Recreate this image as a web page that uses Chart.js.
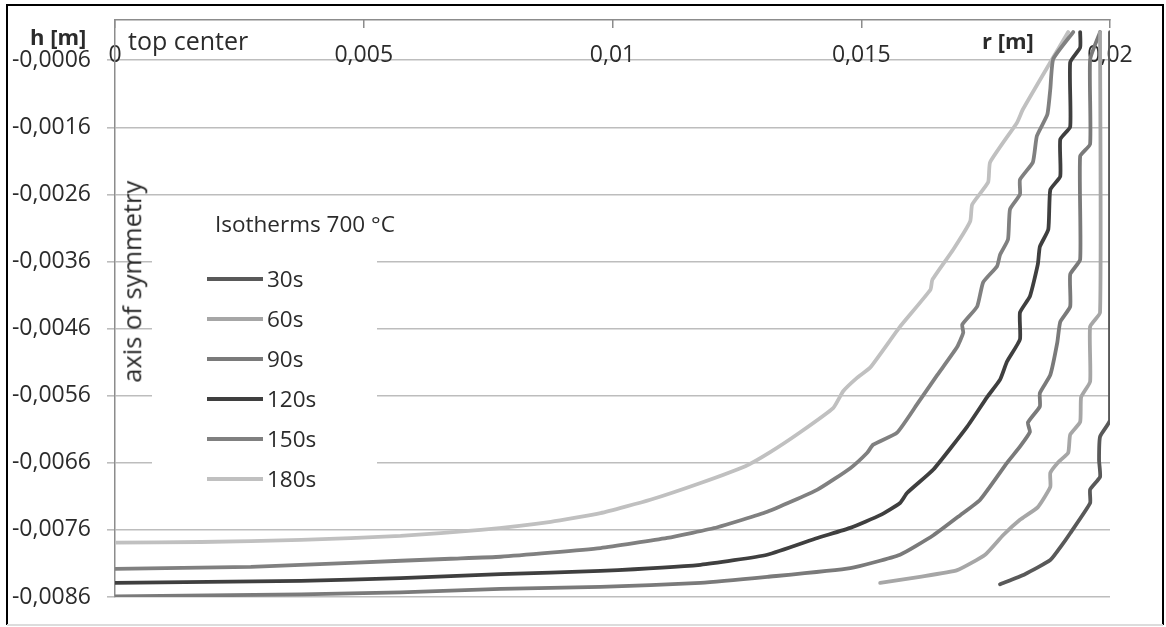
<!DOCTYPE html>
<html>
<head>
<meta charset="utf-8">
<script src="https://cdn.jsdelivr.net/npm/chart.js@4.4.1/dist/chart.umd.min.js"></script>
<style>
body { margin: 0; background: #fff; font-family: "Open Sans", sans-serif; color: #2b2b2b; }
#wrap { position: relative; width: 1166px; height: 627px; }
#chart { position: absolute; left: 0; top: 0; }
.txt { position: absolute; white-space: nowrap; line-height: 1; }
#legend { position: absolute; left: 152px; top: 205px; width: 225px; height: 295px; background: #fff; }
#legend .item { position: absolute; left: 55px; height: 22px; display: flex; align-items: center; font-size: 22.5px; line-height: 1; }
#legend .swatch { display: inline-block; width: 56px; height: 4.5px; margin-right: 4px; }
</style>
</head>
<body>
<div id="wrap">
  <canvas id="chart" width="1166" height="627"></canvas>
  <div class="txt" style="left:30px; top:25px; font-size:22px; font-weight:bold;">h [m]</div>
  <div class="txt" style="left:982px; top:29px; font-size:22px; font-weight:bold;">r [m]</div>
  <div class="txt" style="left:128px; top:28px; font-size:25px;">top center</div>
  <div class="txt" style="left:2px; top:269px; width:260px; text-align:center; font-size:25.5px; transform:rotate(-90deg);">axis of symmetry</div>
  <div id="legend">
    <div class="txt" style="left:63px; top:8px; font-size:22.5px;">Isotherms 700 °C</div>
  </div>
</div>
<script>
// isotherm positions: r = radius [m], h = depth [m]
const seriesNames = ['30s', '60s', '90s', '120s', '150s', '180s'];

const r30 = [0.01779, 0.01829, 0.01880, 0.01904, 0.01920, 0.01960, 0.01960, 0.01980, 0.01978, 0.01980, 0.02000, 0.02000];
const h30 = [-0.00841, -0.00826, -0.00805, -0.00782, -0.00765, -0.00720, -0.00700, -0.00681, -0.00656, -0.00621, -0.00596, -0.00018];

const r60 = [0.01538, 0.01618, 0.01693, 0.01749, 0.01785, 0.01819, 0.01855, 0.01880, 0.01880, 0.01896, 0.01916, 0.01920, 0.01940, 0.01942, 0.01960, 0.01960, 0.01980, 0.01980];
const h60 = [-0.00839, -0.00830, -0.00820, -0.00797, -0.00768, -0.00745, -0.00726, -0.00696, -0.00675, -0.00659, -0.00645, -0.00618, -0.00599, -0.00562, -0.00539, -0.00457, -0.00436, -0.00018];

const r90 = [0, 0.00374, 0.00574, 0.00775, 0.00976, 0.01177, 0.01311, 0.01478, 0.01578, 0.01645, 0.01699, 0.01739, 0.01793, 0.01819, 0.01839, 0.01835, 0.01859, 0.01859, 0.01880, 0.01894, 0.01900, 0.01920, 0.01920, 0.01940, 0.01940, 0.01960, 0.01960, 0.01980];
const h90 = [-0.00859, -0.00856, -0.00853, -0.00848, -0.00845, -0.00839, -0.00830, -0.00817, -0.00797, -0.00768, -0.00738, -0.00715, -0.00660, -0.00636, -0.00614, -0.00600, -0.00576, -0.00556, -0.00529, -0.00481, -0.00450, -0.00427, -0.00379, -0.00357, -0.00203, -0.00185, -0.00059, -0.00018];

const r120 = [0, 0.00374, 0.00574, 0.00775, 0.00976, 0.01177, 0.01311, 0.01412, 0.01478, 0.01538, 0.01578, 0.01592, 0.01645, 0.01713, 0.01753, 0.01779, 0.01793, 0.01819, 0.01819, 0.01839, 0.01855, 0.01859, 0.01876, 0.01880, 0.01900, 0.01900, 0.01920, 0.01920, 0.01940, 0.01940];
const h120 = [-0.00839, -0.00836, -0.00832, -0.00826, -0.00821, -0.00812, -0.00797, -0.00772, -0.00757, -0.00738, -0.00720, -0.00705, -0.00670, -0.00606, -0.00562, -0.00536, -0.00509, -0.00476, -0.00436, -0.00412, -0.00364, -0.00338, -0.00312, -0.00253, -0.00233, -0.00178, -0.00159, -0.00063, -0.00041, -0.00018];

const r150 = [0, 0.00273, 0.00474, 0.00675, 0.00775, 0.00976, 0.01110, 0.01211, 0.01311, 0.01412, 0.01478, 0.01512, 0.01524, 0.01572, 0.01612, 0.01653, 0.01693, 0.01705, 0.01703, 0.01733, 0.01745, 0.01773, 0.01779, 0.01795, 0.01799, 0.01819, 0.01819, 0.01845, 0.01853, 0.01874, 0.01880, 0.01886, 0.01926];
const h150 = [-0.00818, -0.00815, -0.00809, -0.00803, -0.00800, -0.00787, -0.00772, -0.00756, -0.00733, -0.00700, -0.00668, -0.00645, -0.00633, -0.00615, -0.00573, -0.00529, -0.00487, -0.00466, -0.00454, -0.00427, -0.00391, -0.00367, -0.00350, -0.00327, -0.00282, -0.00260, -0.00238, -0.00212, -0.00173, -0.00141, -0.00103, -0.00058, -0.00018];

const r180 = [0, 0.00173, 0.00374, 0.00574, 0.00735, 0.00876, 0.00976, 0.01076, 0.01177, 0.01267, 0.01317, 0.01378, 0.01444, 0.01464, 0.01492, 0.01518, 0.01578, 0.01639, 0.01643, 0.01685, 0.01719, 0.01723, 0.01755, 0.01759, 0.01813, 0.01825, 0.01880, 0.01916];
const h180 = [-0.00779, -0.00778, -0.00775, -0.00769, -0.00760, -0.00748, -0.00735, -0.00715, -0.00690, -0.00665, -0.00644, -0.00614, -0.00578, -0.00553, -0.00533, -0.00518, -0.00457, -0.00402, -0.00387, -0.00342, -0.00300, -0.00275, -0.00242, -0.00212, -0.00153, -0.00133, -0.00063, -0.00018];

const rValues = [r30, r60, r90, r120, r150, r180];
const hValues = [h30, h60, h90, h120, h150, h180];

// tick labels on the h axis
const hTicks = [-0.0086, -0.0076, -0.0066, -0.0056, -0.0046, -0.0036, -0.0026, -0.0016, -0.0006];

const lineColors = ['#595959', '#a6a6a6', '#7a7a7a', '#3f3f3f', '#808080', '#c0c0c0'];
const textColor = '#2b2b2b';
const axisColor = '#8c8c8c';

const frame = {
    id: 'frame',
    beforeDraw(chart) {
        const c = chart.ctx;
        c.save();
        c.fillStyle = '#fff';
        c.fillRect(0, 0, chart.width, chart.height);
        c.strokeStyle = '#000';
        c.lineWidth = 2;
        c.beginPath();
        c.moveTo(7, 625);
        c.lineTo(7, 5);
        c.lineTo(1163, 5);
        c.lineTo(1163, 625);
        c.stroke();
        c.strokeStyle = '#dcdcdc';
        c.beginPath();
        c.moveTo(7, 625);
        c.lineTo(1163, 625);
        c.stroke();
        c.restore();
    }
};

const datasets = seriesNames.map((name, i) => ({
    label: name,
    data: rValues[i].map((r, j) => ({ x: r, y: hValues[i][j] })),
    showLine: true,
    borderColor: lineColors[i],
    backgroundColor: lineColors[i],
    borderWidth: 3.8,
    borderJoinStyle: 'round',
    borderCapStyle: 'round',
    pointRadius: 0,
    tension: 0.15,
    fill: false
}));

const ctx = document.getElementById('chart').getContext('2d');

const isoChart = new Chart(ctx, {
    type: 'scatter',
    data: { datasets: datasets },
    options: {
        responsive: false,
        animation: false,
        layout: { padding: { left: 7, top: 20, right: 56, bottom: 30 } },
        plugins: {
            legend: { display: false },
            tooltip: { enabled: false }
        },
        scales: {
            x: {
                type: 'linear',
                position: 'top',
                min: 0,
                max: 0.02,
                afterFit: (s) => { s.height = 0; },
                ticks: {
                    stepSize: 0.005,
                    mirror: true,
                    padding: 22,
                    color: textColor,
                    font: { family: 'Open Sans', size: 23 },
                    callback: (v) => String(+v.toFixed(3)).replace('.', ',')
                },
                grid: { drawOnChartArea: false, tickLength: -8, color: axisColor, lineWidth: 1.5 },
                border: { color: axisColor, width: 1.5 }
            },
            y: {
                type: 'linear',
                min: -0.0086,
                max: 0,
                afterBuildTicks: (s) => { s.ticks = hTicks.map(v => ({ value: v })); },
                afterFit: (s) => {
                    s.width = 108;
                    s.paddingTop = 0;
                    s.paddingBottom = 0;
                },
                ticks: {
                    padding: 16,
                    color: textColor,
                    font: { family: 'Open Sans', size: 23 },
                    callback: (v) => v.toFixed(4).replace('.', ',')
                },
                grid: { color: '#bdbdbd', lineWidth: 1.6, tickLength: 8 },
                border: { color: axisColor, width: 1.5 }
            }
        }
    },
    plugins: [frame]
});

// legend built from the series
const legendBox = document.getElementById('legend');
seriesNames.forEach((name, i) => {
    const row = document.createElement('div');
    row.className = 'item';
    row.style.top = (63 + i * 40) + 'px';
    row.innerHTML = '<span class="swatch" style="background:' + lineColors[i] + '"></span>' + name;
    legendBox.appendChild(row);
});
</script>
</body>
</html>
